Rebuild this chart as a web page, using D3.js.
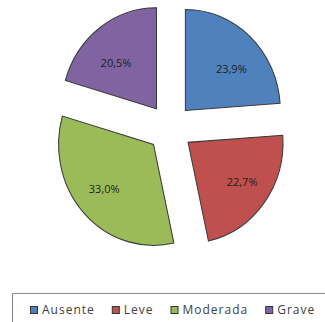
<!DOCTYPE html>
<html>
<head>
<meta charset="utf-8">
<script src="https://cdn.jsdelivr.net/npm/d3@7"></script>
<style>
  body { margin: 0; background: #fff; }
  svg { display: block; }
</style>
</head>
<body>
<div id="chart"></div>
<script>
// data
var categories = ["Ausente", "Leve", "Moderada", "Grave"];
var values = [23.9, 22.7, 33.0, 20.5];
var labels = ["23,9%", "22,7%", "33,0%", "20,5%"];
var colors = ["#4F81BD", "#C0504D", "#9BBB59", "#8064A2"];

var svgWidth = 325;
var svgHeight = 322;

var svg = d3.select("#chart")
    .append("svg")
    .attr("width", svgWidth)
    .attr("height", svgHeight);

// pie geometry (the original is a bit narrower than tall)
var cx = 170, cy = 128;
var radius = 101;
var xScale = 0.94;
var explode = 24;
// label distance from the centre, in screen pixels
var labelRx = 90, labelRy = 85;

var pie = d3.pie().sort(null).value(function(d) { return d; });
var arcs = pie(values);
var arc = d3.arc().innerRadius(0).outerRadius(radius);

function offset(d, r) {
    var a = (d.startAngle + d.endAngle) / 2;
    return [Math.sin(a) * r, -Math.cos(a) * r];
}

var pieGroup = svg.append("g")
    .attr("transform", "translate(" + cx + "," + cy + ") scale(" + xScale + ",1)");

pieGroup.selectAll("path")
    .data(arcs)
    .enter()
    .append("path")
    .attr("d", arc)
    .attr("transform", function(d) {
        var o = offset(d, explode);
        return "translate(" + o[0] + "," + o[1] + ")";
    })
    .attr("fill", function(d, i) { return colors[i]; })
    .attr("stroke", "#3a3a3a")
    .attr("stroke-width", 1.1);

// percentage labels, kept unscaled
svg.append("g")
    .selectAll("text")
    .data(arcs)
    .enter()
    .append("text")
    .attr("x", function(d) { return cx + offset(d, labelRx)[0]; })
    .attr("y", function(d) { return cy + 3 + offset(d, labelRy)[1]; })
    .attr("dy", "0.35em")
    .attr("text-anchor", "middle")
    .attr("font-family", "'Open Sans', sans-serif")
    .attr("font-size", 11)
    .attr("fill", "#1e1e1e")
    .text(function(d, i) { return labels[i]; });

// legend box runs off the bottom right like in the picture
svg.append("rect")
    .attr("x", 12.5)
    .attr("y", 293.5)
    .attr("width", 330)
    .attr("height", 40)
    .attr("fill", "#fff")
    .attr("stroke", "#8a8a8a")
    .attr("stroke-width", 1);

var legend = svg.append("g").attr("transform", "translate(30,310)");
var lx = 0;
categories.forEach(function(c, i) {
    var item = legend.append("g").attr("transform", "translate(" + lx + ",0)");
    item.append("rect")
        .attr("x", 0.5).attr("y", -3.5)
        .attr("width", 7).attr("height", 7)
        .attr("fill", colors[i])
        .attr("stroke", "#333")
        .attr("stroke-width", 1);
    var t = item.append("text")
        .attr("x", 12)
        .attr("y", 0)
        .attr("dy", "0.35em")
        .attr("font-family", "'Open Sans', sans-serif")
        .attr("font-size", 12)
        .attr("letter-spacing", 1)
        .attr("fill", "#404040")
        .text(c);
    lx += 12 + t.node().getComputedTextLength() + 17;
});
</script>
</body>
</html>
